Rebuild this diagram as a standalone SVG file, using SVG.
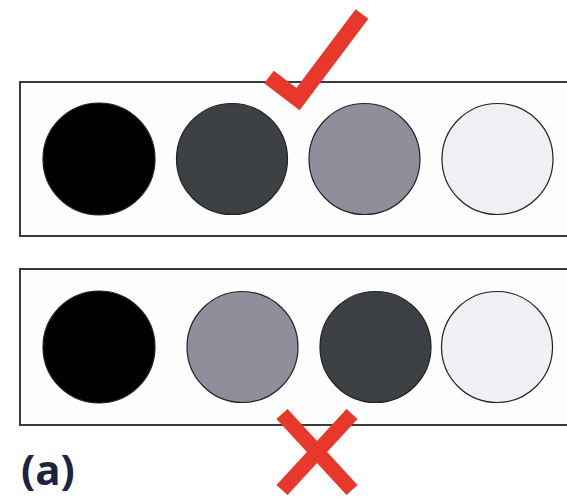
<svg xmlns="http://www.w3.org/2000/svg" width="567" height="498" viewBox="0 0 567 498">
<style>
.panel{fill:#fefefe;stroke:#3a3a3a;stroke-width:2}
.c{stroke:#222;stroke-width:1.2}
.mark{fill:none;stroke:#e8372b;stroke-width:16;stroke-linejoin:miter}
.lbl{font-family:"Open Sans","DejaVu Sans",sans-serif;font-weight:bold;font-size:42px;fill:#1b2440}
</style>
<rect width="567" height="498" fill="#ffffff"/>
<g id="top-panel">
<rect class="panel" x="20" y="82" width="560" height="154"/>
<circle class="c" cx="99" cy="159" r="56" fill="#000000"/>
<circle class="c" cx="232" cy="159" r="55.5" fill="#3d4145"/>
<circle class="c" cx="364.5" cy="159" r="55.5" fill="#8f8f9b"/>
<circle class="c" cx="497.5" cy="159" r="55.5" fill="#eef0f3"/>
</g>
<g id="bottom-panel">
<rect class="panel" x="20" y="269" width="560" height="156"/>
<circle class="c" cx="99" cy="347" r="56" fill="#000000"/>
<circle class="c" cx="242.5" cy="347" r="55.5" fill="#8f8f9b"/>
<circle class="c" cx="375.5" cy="347" r="55.5" fill="#3d4145"/>
<circle class="c" cx="497" cy="347" r="55.5" fill="#eef0f3"/>
</g>
<g id="check">
<polyline class="mark" points="269,77 298,99 362,14"/>
</g>
<g id="cross">
<line class="mark" x1="282" y1="414" x2="352" y2="490" style="stroke-width:15"/>
<line class="mark" x1="352" y1="414" x2="282" y2="490" style="stroke-width:15"/>
</g>
<g id="label">
<text class="lbl" x="21" y="485">(a)</text>
</g>
</svg>
